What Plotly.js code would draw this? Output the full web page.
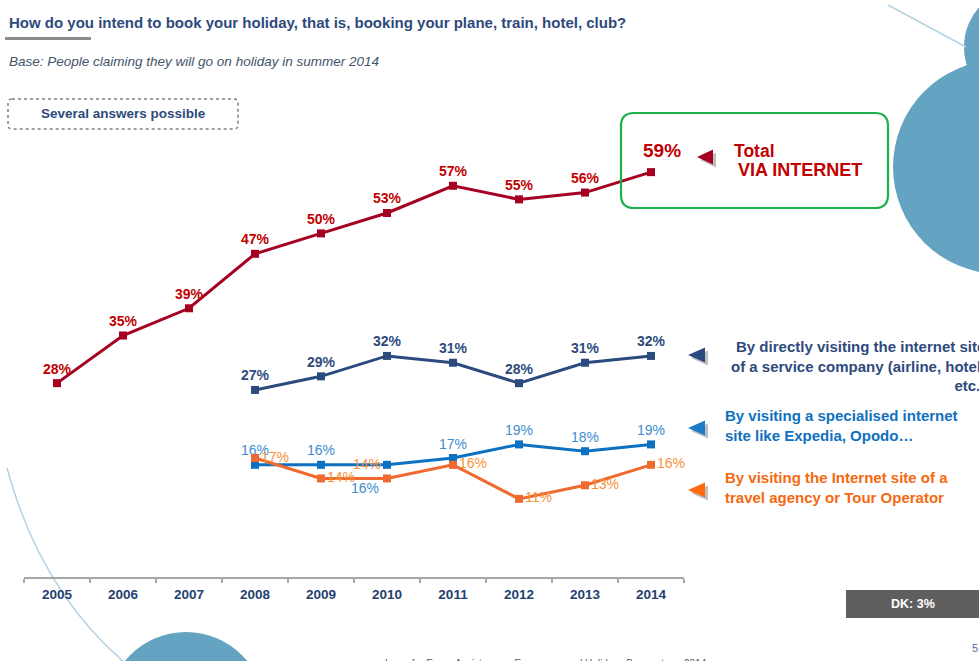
<!DOCTYPE html>
<html>
<head>
<meta charset="utf-8">
<script src="https://cdn.plot.ly/plotly-3.0.1.min.js"></script>
<style>
html,body{margin:0;padding:0;background:#fff;}
#chart{width:979px;height:661px;}
</style>
</head>
<body>
<div id="chart"></div>
<script>
// ---- data ----
const years = ['2005','2006','2007','2008','2009','2010','2011','2012','2013','2014'];
const totalInternet = [28, 35, 39, 47, 50, 53, 57, 55, 56, 59];
const yearsSub = ['2008','2009','2010','2011','2012','2013','2014'];
const directSite = [27, 29, 32, 31, 28, 31, 32];
const specialisedSite = [16, 16, 16, 17, 19, 18, 19];
const agencySite = [17, 14, 14, 16, 11, 13, 16];
const dkValue = 3;

// ---- layout geometry helpers (pixel -> paper) ----
const L = 24, T = 100, W = 660, H = 477;
const px = x => (x - L) / W;
const py = y => (T + H - y) / H;

const FONT = 'Liberation Sans, Arial, sans-serif';
const RED = '#A50021', RED_T = '#C00000';
const DBLUE = '#2B4B7E', DBLUE_T = '#2E4A7D';
const LBLUE = '#0B71C0', LBLUE_T = '#3E8ED0';
const ORANGE = '#F06A30', ORANGE_T = '#F7923A';

const pct = '%{y}%';
const SPEC_LOW = 2; // index of the specialised-site label drawn below-left

const traces = [
  {
    x: years, y: totalInternet, type: 'scatter', mode: 'lines+markers+text',
    line: {color: RED, width: 3}, marker: {symbol: 'square', size: 8, color: RED},
    texttemplate: years.map((y, i) => i === years.length - 1 ? '' : '<b>' + pct + '</b>'),
    textposition: 'top center', textfont: {family: FONT, size: 14, color: RED_T},
    cliponaxis: false, hoverinfo: 'skip'
  },
  {
    x: yearsSub, y: directSite, type: 'scatter', mode: 'lines+markers+text',
    line: {color: DBLUE, width: 3}, marker: {symbol: 'square', size: 8, color: DBLUE},
    texttemplate: '<b>' + pct + '</b>',
    textposition: 'top center', textfont: {family: FONT, size: 14, color: DBLUE_T},
    cliponaxis: false, hoverinfo: 'skip'
  },
  {
    x: yearsSub, y: specialisedSite, type: 'scatter', mode: 'lines+markers+text',
    line: {color: LBLUE, width: 3}, marker: {symbol: 'square', size: 8, color: LBLUE},
    texttemplate: yearsSub.map((y, i) => i === SPEC_LOW ? '' : pct),
    textposition: 'top center',
    textfont: {family: FONT, size: 14, color: LBLUE_T},
    cliponaxis: false, hoverinfo: 'skip'
  },
  {
    x: yearsSub, y: agencySite, type: 'scatter', mode: 'lines+markers+text',
    line: {color: ORANGE, width: 3}, marker: {symbol: 'square', size: 8, color: ORANGE},
    texttemplate: pct,
    textposition: ['middle right','middle right','top left','middle right','middle right','middle right','middle right'],
    textfont: {family: FONT, size: 14, color: ORANGE_T},
    cliponaxis: false, hoverinfo: 'skip'
  }
];

function tri(tipX, tipY, baseX, half) {
  return 'M' + px(tipX) + ',' + py(tipY) + ' L' + px(baseX) + ',' + py(tipY - half) +
         ' L' + px(baseX) + ',' + py(tipY + half) + ' Z';
}
function roundRect(x0, y0, x1, y1, r) {
  const p = (x, y) => px(x) + ',' + py(y);
  return 'M' + p(x0 + r, y0) + ' L' + p(x1 - r, y0) + ' Q' + p(x1, y0) + ' ' + p(x1, y0 + r) +
         ' L' + p(x1, y1 - r) + ' Q' + p(x1, y1) + ' ' + p(x1 - r, y1) +
         ' L' + p(x0 + r, y1) + ' Q' + p(x0, y1) + ' ' + p(x0, y1 - r) +
         ' L' + p(x0, y0 + r) + ' Q' + p(x0, y0) + ' ' + p(x0 + r, y0) + ' Z';
}
function circ(cx, cy, r, color) {
  return {type: 'circle', xref: 'paper', yref: 'paper', layer: 'below',
    x0: px(cx - r), x1: px(cx + r), y0: py(cy + r), y1: py(cy - r),
    fillcolor: color, line: {width: 0}};
}
const CIRC = '#64A3C1', ARC = '#B5D2E2', SHADOW = '#BFBFBF';

const shapes = [
  circ(1000, 167, 107, CIRC),
  circ(1024, 47, 60, CIRC),
  circ(186, 711, 79, CIRC),
  {type: 'path', xref: 'paper', yref: 'paper', layer: 'below',
   path: 'M' + px(888) + ',' + py(5) + ' L' + px(966) + ',' + py(47),
   line: {color: ARC, width: 1.5}},
  {type: 'path', xref: 'paper', yref: 'paper', layer: 'below',
   path: 'M' + px(7) + ',' + py(468) + ' Q' + px(40) + ',' + py(590) + ' ' + px(125) + ',' + py(663),
   line: {color: ARC, width: 1.5}},
  // title underline
  {type: 'rect', xref: 'paper', yref: 'paper', x0: px(5), x1: px(91), y0: py(40), y1: py(37),
   fillcolor: '#8C8C8C', line: {width: 0}},
  // dotted box
  {type: 'path', xref: 'paper', yref: 'paper', path: roundRect(8, 99, 238, 129, 4),
   line: {color: '#7F7F7F', width: 1.5, dash: 'dot'}},
  // green box
  {type: 'path', xref: 'paper', yref: 'paper', path: roundRect(621, 113, 888, 208, 13),
   line: {color: '#1DB14B', width: 2.2}},
  // triangles with shadows
  {type: 'path', xref: 'paper', yref: 'paper', path: tri(700, 160, 716, 7.5), fillcolor: SHADOW, line: {width: 0}},
  {type: 'path', xref: 'paper', yref: 'paper', path: tri(697, 157, 713, 7.5), fillcolor: RED, line: {width: 0}},
  {type: 'path', xref: 'paper', yref: 'paper', path: tri(691, 358, 708, 7.5), fillcolor: SHADOW, line: {width: 0}},
  {type: 'path', xref: 'paper', yref: 'paper', path: tri(688, 355, 705, 7.5), fillcolor: DBLUE, line: {width: 0}},
  {type: 'path', xref: 'paper', yref: 'paper', path: tri(691, 431, 708, 7.5), fillcolor: SHADOW, line: {width: 0}},
  {type: 'path', xref: 'paper', yref: 'paper', path: tri(688, 428, 705, 7.5), fillcolor: '#1F7BC8', line: {width: 0}},
  {type: 'path', xref: 'paper', yref: 'paper', path: tri(691, 493, 708, 7.5), fillcolor: SHADOW, line: {width: 0}},
  {type: 'path', xref: 'paper', yref: 'paper', path: tri(688, 490, 705, 7.5), fillcolor: '#FF6A0F', line: {width: 0}},
  // DK box
  {type: 'rect', xref: 'paper', yref: 'paper', x0: px(846), x1: px(985), y0: py(618), y1: py(590),
   fillcolor: '#5F5F5F', line: {width: 0}}
];

function ann(x, y, text, opts) {
  return Object.assign({xref: 'paper', yref: 'paper', x: px(x), y: py(y), text: text,
    showarrow: false, xanchor: 'left', yanchor: 'middle', font: {family: FONT, size: 13, color: DBLUE_T}}, opts || {});
}

const annotations = [
  ann(7, 22, '<b>How do you intend to book your holiday, that is, booking your plane, train, hotel, club?</b>',
      {font: {family: FONT, size: 15, color: DBLUE_T}}),
  ann(7, 62, '<i>Base: People claiming they will go on holiday in summer 2014</i>',
      {font: {family: FONT, size: 13.5, color: '#44546A'}}),
  ann(123, 114, '<b>Several answers possible</b>',
      {xanchor: 'center', font: {family: FONT, size: 13.5, color: DBLUE_T}}),
  ann(662, 150, '<b>' + totalInternet[totalInternet.length - 1] + '%</b>',
      {xanchor: 'center', font: {family: FONT, size: 19, color: RED_T}}),
  ann(732, 151, '<b>Total</b>', {font: {family: FONT, size: 17.5, color: RED_T}}),
  ann(736, 170, '<b>VIA INTERNET</b>', {font: {family: FONT, size: 18, color: RED_T}}),
  ann(987, 366, '<b>By directly visiting the internet site<br>of a service company (airline, hotel,<br>etc.)</b>',
      {xanchor: 'right', align: 'right', font: {family: FONT, size: 15, color: DBLUE_T}}),
  ann(723, 425, '<b>By visiting a specialised internet<br>site like Expedia, Opodo…</b>',
      {align: 'left', font: {family: FONT, size: 15, color: '#1070C0'}}),
  ann(723, 487, '<b>By visiting the Internet site of a<br>travel agency or Tour Operator</b>',
      {align: 'left', font: {family: FONT, size: 15, color: '#F5690F'}}),
  ann(913, 604, '<b>DK: ' + dkValue + '%</b>',
      {xanchor: 'center', font: {family: FONT, size: 12.5, color: '#FFFFFF'}}),
  ann(975, 648, '5', {xanchor: 'center', font: {family: FONT, size: 11, color: '#4A6FA5'}}),
  ann(546, 663, 'Ipsos for Europ Assistance – Europeans and Holidays Barometer – 2014',
      {xanchor: 'center', font: {family: FONT, size: 10, color: '#595959'}}),
  // specialised-site label placed below-left of its point (data-driven position)
  {xref: 'x', yref: 'y', x: years.indexOf(yearsSub[SPEC_LOW]), y: specialisedSite[SPEC_LOW],
   text: specialisedSite[SPEC_LOW] + '%', showarrow: false, xanchor: 'center', yanchor: 'middle',
   xshift: -22, yshift: -23, font: {family: FONT, size: 14, color: LBLUE_T}}
];

const layout = {
  width: 979, height: 661,
  margin: {l: L, r: 979 - L - W, t: T, b: 661 - T - H, pad: 0},
  paper_bgcolor: '#FFFFFF', plot_bgcolor: 'rgba(0,0,0,0)',
  showlegend: false,
  xaxis: {
    type: 'category', categoryorder: 'array', categoryarray: years,
    range: [-0.5, 9.5], fixedrange: true,
    showline: true, linecolor: '#A6A6A6', linewidth: 2,
    ticks: 'outside', tickson: 'boundaries', ticklen: 4, tickcolor: '#A6A6A6', tickwidth: 1.5,
    ticklabelstandoff: 4,
    showgrid: false, zeroline: false,
    tickfont: {family: 'Liberation Sans Narrow, Arial Narrow, ' + FONT, size: 13.5, color: '#243F70', weight: 'bold'}
  },
  yaxis: {
    range: [-0.48, 69.6], visible: false, showgrid: false, zeroline: false, fixedrange: true
  },
  shapes: shapes,
  annotations: annotations
};

Plotly.newPlot('chart', traces, layout, {displayModeBar: false, staticPlot: true});
</script>
</body>
</html>
